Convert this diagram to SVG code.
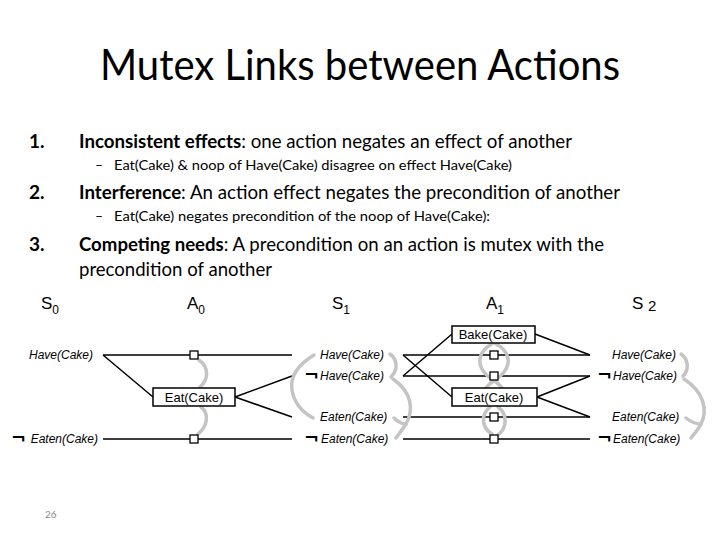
<svg xmlns="http://www.w3.org/2000/svg" width="720" height="540" viewBox="0 0 720 540">
<defs>
<style>
.title{font-family:Lato,"Open Sans",sans-serif;font-size:42px;fill:#000}
.b{font-family:Lato,"Open Sans",sans-serif;font-size:19px;fill:#000}
.bb{font-weight:bold}
.s{font-family:Lato,"Open Sans",sans-serif;font-size:14px;fill:#000}
.hd{font-family:"Liberation Sans",Arial,sans-serif;font-size:17px;fill:#000}
.sub{font-size:12px}
.lab{font-family:"Liberation Sans",Arial,sans-serif;font-size:12px;font-style:italic;fill:#000}
.neg{font-family:"DejaVu Sans",sans-serif;font-size:18px;font-weight:bold;fill:#000}
.act{font-family:"Liberation Sans",Arial,sans-serif;font-size:13px;fill:#000}
.ln{stroke:#000;stroke-width:1.5;fill:none}
.box{stroke:#000;stroke-width:1.5;fill:#fff}
.nop{stroke:#000;stroke-width:1.3;fill:#fff}
.mx{stroke:#c4c4c4;stroke-width:3.5;fill:none;stroke-linecap:round}
.pg{font-family:Lato,"Open Sans",sans-serif;font-size:10px;fill:#888}
</style>
</defs>
<rect width="720" height="540" fill="#fff"/>
<text class="title" x="100" y="80" textLength="520" lengthAdjust="spacingAndGlyphs">Mutex Links between Actions</text>

<g id="bullets">
<text class="b bb" x="29" y="148">1.</text>
<text class="b" x="79" y="148" textLength="493" lengthAdjust="spacingAndGlyphs"><tspan class="bb">Inconsistent effects</tspan>: one action negates an effect of another</text>
<text class="s" x="95" y="170">–</text>
<text class="s" x="114" y="170" textLength="398" lengthAdjust="spacingAndGlyphs">Eat(Cake) &amp; noop of Have(Cake) disagree on effect Have(Cake)</text>
<text class="b bb" x="29" y="199">2.</text>
<text class="b" x="79" y="199" textLength="541" lengthAdjust="spacingAndGlyphs"><tspan class="bb">Interference</tspan>: An action effect negates the precondition of another</text>
<text class="s" x="95" y="221">–</text>
<text class="s" x="114" y="221" textLength="376" lengthAdjust="spacingAndGlyphs">Eat(Cake) negates precondition of the noop of Have(Cake):</text>
<text class="b bb" x="29" y="251">3.</text>
<text class="b" x="79" y="251" textLength="525" lengthAdjust="spacingAndGlyphs"><tspan class="bb">Competing needs</tspan>: A precondition on an action is mutex with the</text>
<text class="b" x="79" y="276" textLength="193" lengthAdjust="spacingAndGlyphs">precondition of another</text>
</g>

<g id="headers">
<text class="hd" x="41" y="309">S<tspan class="sub" dy="5">0</tspan></text>
<text class="hd" x="187" y="309">A<tspan class="sub" dy="5">0</tspan></text>
<text class="hd" x="332" y="309">S<tspan class="sub" dy="5">1</tspan></text>
<text class="hd" x="486" y="309">A<tspan class="sub" dy="5">1</tspan></text>
<text class="hd" x="632" y="309">S <tspan class="sub" dy="2" style="font-size:15px">2</tspan></text>
</g>

<g id="connectors">
<path class="ln" d="M103,355H292M103,439H292M103,355L153,397M235,397L292,376M235,397L292,417"/>
<path class="ln" d="M403,355H590M403,376H590M403,417H590M403,439H590"/>
<path class="ln" d="M403,355L452,397M403,376L452,334M535,334L590,355M537,397L590,376M537,397L590,417"/>
</g>

<g id="mutex">
<path class="mx" d="M199,360C210,368 208,380 200,387"/>
<path class="mx" d="M201,407C210,414 207,427 198,434"/>
<path class="mx" d="M314,355C296,366 290,378 292,390C294,402 302,412 313,418"/>
<path class="mx" d="M390,354C398,360 398,370 391,377"/>
<path class="mx" d="M393,379C412,392 414,410 406,424C402,430 399,434 396,438"/>
<path class="mx" d="M394,418C398,422 402,424 406,424"/>
<path class="mx" d="M492,344C480,350 476,362 484,372C490,380 500,382 503,390"/>
<path class="mx" d="M496,344C508,350 512,362 504,372C498,380 488,382 485,390"/>
<path class="mx" d="M490,407C480,415 482,428 492,434"/>
<path class="mx" d="M498,407C508,414 507,428 498,435"/>
<path class="mx" d="M681,354C689,360 689,370 683,376"/>
<path class="mx" d="M684,379C704,392 708,410 701,424C698,430 694,434 691,438"/>
<path class="mx" d="M686,418C691,422 696,424 701,424"/>
</g>

<g id="s0-have"><text class="lab" x="93" y="359" text-anchor="end">Have(Cake)</text></g>
<g id="s0-neaten"><text class="neg" x="11" y="444">¬</text><text class="lab" x="98" y="443" text-anchor="end">Eaten(Cake)</text></g>

<g id="a0-noop-have"><rect class="nop" x="190" y="351" width="8" height="8"/></g>
<g id="a0-noop-neaten"><rect class="nop" x="190" y="435" width="8" height="8"/></g>
<g id="a0-eat"><rect class="box" x="153" y="388" width="82" height="18"/><text class="act" x="194" y="402" text-anchor="middle">Eat(Cake)</text></g>

<g id="s1-have"><text class="lab" x="320" y="359">Have(Cake)</text></g>
<g id="s1-nhave"><text class="neg" x="304" y="381">¬</text><text class="lab" x="320" y="380">Have(Cake)</text></g>
<g id="s1-eaten"><text class="lab" x="320" y="421">Eaten(Cake)</text></g>
<g id="s1-neaten"><text class="neg" x="304" y="444">¬</text><text class="lab" x="321" y="443">Eaten(Cake)</text></g>

<g id="a1-bake"><rect class="box" x="452" y="326" width="83" height="17"/><text class="act" x="493" y="339" text-anchor="middle">Bake(Cake)</text></g>
<g id="a1-noop-have"><rect class="nop" x="490" y="351" width="8" height="8"/></g>
<g id="a1-noop-nhave"><rect class="nop" x="490" y="372" width="8" height="8"/></g>
<g id="a1-eat"><rect class="box" x="452" y="388" width="85" height="18"/><text class="act" x="494" y="402" text-anchor="middle">Eat(Cake)</text></g>
<g id="a1-noop-eaten"><rect class="nop" x="490" y="413" width="8" height="8"/></g>
<g id="a1-noop-neaten"><rect class="nop" x="490" y="435" width="8" height="8"/></g>

<g id="s2-have"><text class="lab" x="612" y="359">Have(Cake)</text></g>
<g id="s2-nhave"><text class="neg" x="597" y="381">¬</text><text class="lab" x="613" y="380">Have(Cake)</text></g>
<g id="s2-eaten"><text class="lab" x="612" y="421">Eaten(Cake)</text></g>
<g id="s2-neaten"><text class="neg" x="597" y="444">¬</text><text class="lab" x="613" y="443">Eaten(Cake)</text></g>

<text class="pg" x="45" y="518">26</text>
</svg>
